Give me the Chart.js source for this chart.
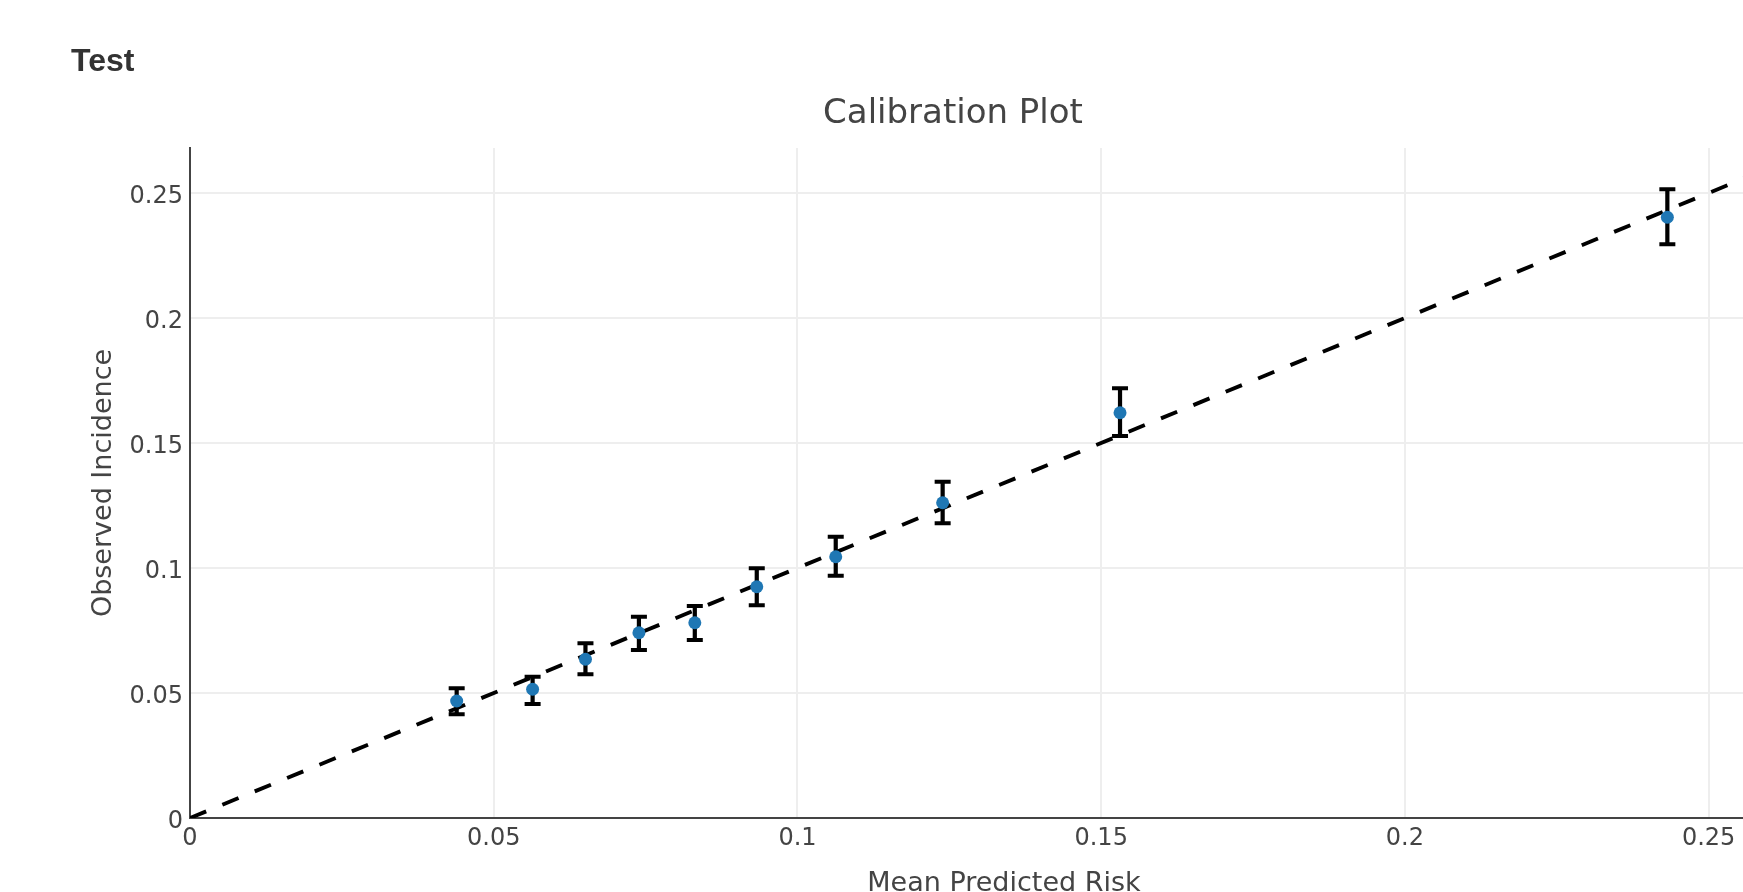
<!DOCTYPE html>
<html>
<head>
<meta charset="utf-8">
<title>Calibration Plot</title>
<script src="https://cdn.jsdelivr.net/npm/chart.js@4.4.1/dist/chart.umd.min.js"></script>
<style>
  html, body { margin: 0; padding: 0; background: #fff; overflow: hidden; }
  #wrap { position: absolute; left: 0; top: 0; width: 1906px; height: 900px; }
  #heading { position: absolute; left: 71px; top: 44px; z-index: 2;
    font: bold 32px/32px "Liberation Sans", Arial, sans-serif; color: #333; }
</style>
</head>
<body>
<div id="heading">Test</div>
<div id="wrap"><canvas id="chart" width="1906" height="900"></canvas></div>
<script>
// mean predicted risk per bin, observed incidence and its interval
const predicted = [0.0439, 0.0564, 0.0651, 0.0739, 0.0831, 0.0933, 0.1063, 0.1239, 0.1531, 0.2432];
const observed  = [0.0468, 0.0515, 0.0635, 0.0741, 0.0781, 0.0925, 0.1045, 0.1261, 0.1621, 0.2403];
const upper     = [0.0519, 0.0565, 0.0699, 0.0805, 0.0848, 0.0999, 0.1125, 0.1345, 0.1719, 0.2515];
const lower     = [0.0415, 0.0456, 0.0575, 0.0672, 0.0712, 0.0851, 0.0969, 0.1179, 0.1528, 0.2295];

// perfect calibration line
const diagonal = [0, 0.268];

const tickValues = [0, 0.05, 0.1, 0.15, 0.2, 0.25];
const tickLabels = ['0', '0.05', '0.1', '0.15', '0.2', '0.25'];

Chart.defaults.font.family = '"DejaVu Sans", Verdana, sans-serif';
Chart.defaults.color = '#444';

// error bars drawn just before the points so the dots sit on top
const errorBars = {
    id: 'errorBars',
    beforeDatasetDraw(chart, args) {
        if (args.index !== 1) return;
        const {ctx} = chart;
        const x = chart.scales.x, y = chart.scales.y;
        ctx.save();
        ctx.strokeStyle = '#000';
        ctx.lineWidth = 4.2;
        for (let i = 0; i < predicted.length; i++) {
            const px = x.getPixelForValue(predicted[i]);
            const top = y.getPixelForValue(upper[i]);
            const bot = y.getPixelForValue(lower[i]);
            ctx.beginPath();
            ctx.moveTo(px, top);
            ctx.lineTo(px, bot);
            ctx.moveTo(px - 8, top);
            ctx.lineTo(px + 8, top);
            ctx.moveTo(px - 8, bot);
            ctx.lineTo(px + 8, bot);
            ctx.stroke();
        }
        ctx.restore();
    }
};

const setTicks = scale => {
    scale.ticks = tickValues.map(v => ({value: v}));
};

new Chart(document.getElementById('chart'), {
    type: 'scatter',
    data: {
        datasets: [{
            data: diagonal.map(v => ({x: v, y: v})),
            showLine: true,
            borderColor: '#000',
            borderWidth: 3.9,
            borderDash: [17.5, 17.5],
            pointRadius: 0,
            order: 2
        }, {
            data: predicted.map((v, i) => ({x: v, y: observed[i]})),
            backgroundColor: '#1f77b4',
            borderWidth: 0,
            pointRadius: 6.5,
            order: 1
        }]
    },
    options: {
        responsive: false,
        animation: false,
        events: [],
        layout: {padding: {left: 88, right: 88, top: 0, bottom: 0}},
        plugins: {
            legend: {display: false},
            tooltip: {enabled: false},
            title: {
                display: true,
                text: 'Calibration Plot',
                color: '#444',
                font: {size: 34, weight: 'normal'},
                padding: {top: 94, bottom: 13.2}
            }
        },
        scales: {
            x: {
                type: 'linear',
                min: 0,
                max: 0.268,
                afterBuildTicks: setTicks,
                afterFit: s => { s.height = 82; },
                grid: {color: '#eeeeee', lineWidth: 2, drawTicks: false},
                border: {display: true, color: '#444', width: 2},
                ticks: {
                    padding: 6,
                    font: {size: 24},
                    maxRotation: 0,
                    callback: (v, i) => tickLabels[i]
                },
                title: {
                    display: true,
                    text: 'Mean Predicted Risk',
                    font: {size: 27},
                    padding: {top: 0, bottom: 0}
                }
            },
            y: {
                type: 'linear',
                min: 0,
                max: 0.268,
                afterBuildTicks: setTicks,
                afterFit: s => { s.width = 102; },
                grid: {color: '#eeeeee', lineWidth: 2, drawTicks: false},
                border: {display: true, color: '#444', width: 2},
                ticks: {
                    padding: 7,
                    labelOffset: 4,
                    font: {size: 24},
                    callback: (v, i) => tickLabels[i]
                },
                title: {
                    display: true,
                    text: 'Observed Incidence',
                    font: {size: 27},
                    padding: {top: 0, bottom: 0}
                }
            }
        }
    },
    plugins: [errorBars]
});
</script>
</body>
</html>
